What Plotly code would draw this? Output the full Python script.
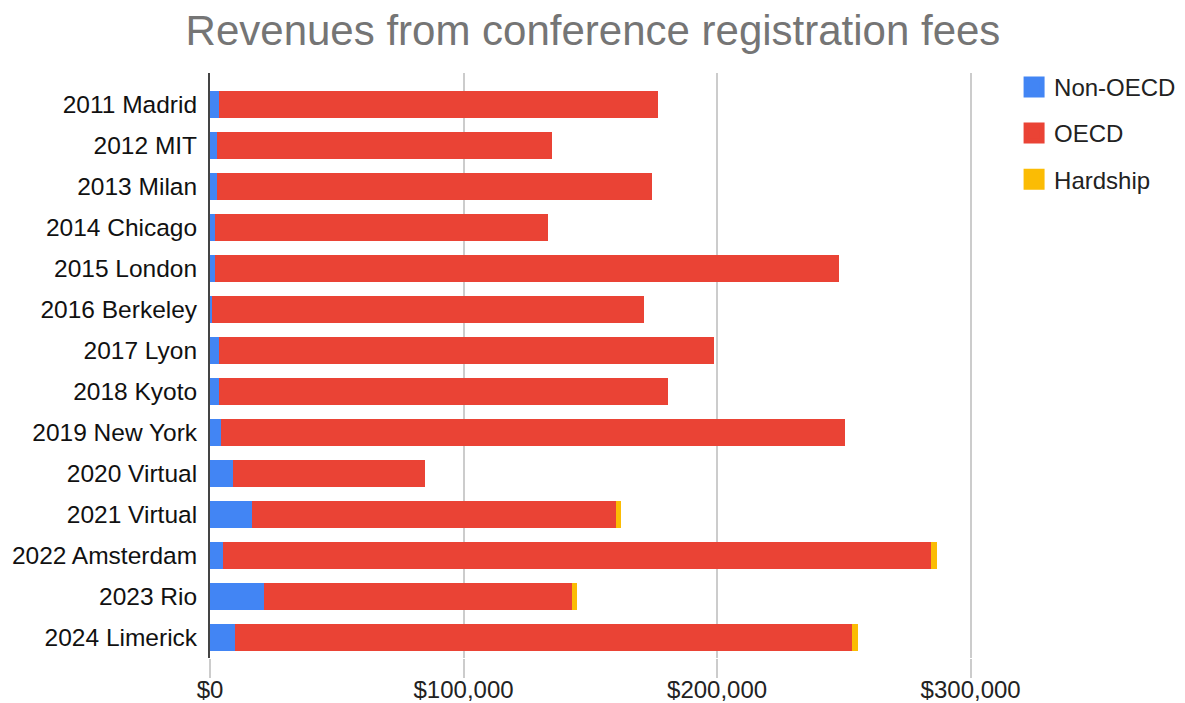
import plotly.graph_objects as go

categories = ["2011 Madrid", "2012 MIT", "2013 Milan", "2014 Chicago", "2015 London",
              "2016 Berkeley", "2017 Lyon", "2018 Kyoto", "2019 New York", "2020 Virtual",
              "2021 Virtual", "2022 Amsterdam", "2023 Rio", "2024 Limerick"]
non_oecd = [3550, 2650, 2650, 1850, 1850, 900, 3550, 3550, 4350, 9200, 16450, 5100, 21400, 10000]
oecd = [173150, 132150, 171550, 131350, 246250, 170200, 195250, 177250, 246250, 75500,
        143850, 279200, 121500, 243100]
hardship = [0, 0, 0, 0, 0, 0, 0, 0, 0, 0, 1700, 2300, 1700, 2300]

tick_vals = [0, 100000, 200000, 300000]
tick_text = ["$0", "$100,000", "$200,000", "$300,000"]

series = [("Non-OECD", non_oecd, "#4285F4"),
          ("OECD", oecd, "#EA4335"),
          ("Hardship", hardship, "#FBBC04")]

FONT = "Liberation Sans, Arial, sans-serif"

# the page body has an 8px margin, so the figure is 8px smaller than the window
W, H = 1177, 695

fig = go.Figure()
for name, vals, color in series:
    fig.add_trace(go.Bar(
        y=categories, x=vals, name=name, orientation="h",
        marker=dict(color=color, line=dict(width=0)),
        showlegend=False, legendgroup=name,
    ))
for name, vals, color in series:
    fig.add_trace(go.Scatter(
        x=[None], y=[None], mode="markers", name=name, legendgroup=name,
        marker=dict(symbol="square", size=24, color=color,
                    line=dict(color=color, width=5)),
        showlegend=True,
    ))

fig.update_layout(
    width=W, height=H,
    barmode="stack", bargap=0.34,
    paper_bgcolor="white", plot_bgcolor="white",
    margin=dict(l=202, r=189, t=65, b=45, autoexpand=False),
    title=dict(text="Revenues from conference registration fees",
               x=(593 - 8) / W, xref="container", y=1 - 22 / H, yref="container",
               xanchor="center", yanchor="middle",
               font=dict(family=FONT, size=42, color="#757575")),
    legend=dict(x=1.023, xanchor="left", y=1.014, yanchor="top",
                font=dict(family=FONT, size=24, color="#222222"),
                traceorder="grouped", tracegroupgap=12,
                bgcolor="rgba(0,0,0,0)", itemsizing="trace"),
    font=dict(family=FONT, color="#222222"),
)
fig.update_xaxes(
    range=[0, 310000], tickvals=tick_vals, ticktext=tick_text,
    showgrid=True, gridcolor="#cccccc", gridwidth=2,
    ticks="outside", ticklen=19, tickcolor="#cccccc", tickwidth=2,
    ticklabelstandoff=-9,
    zeroline=False, showline=False,
    tickfont=dict(family=FONT, size=24, color="#222222"),
)
fig.update_yaxes(
    type="category", categoryorder="array", categoryarray=categories,
    range=[13.5, -0.77],
    showgrid=False, zeroline=False,
    showline=True, linecolor="#444444", linewidth=2,
    ticks="", ticklabelstandoff=6,
    tickfont=dict(family=FONT, size=24.5, color="#111111"),
)

fig.write_html("out.html")
